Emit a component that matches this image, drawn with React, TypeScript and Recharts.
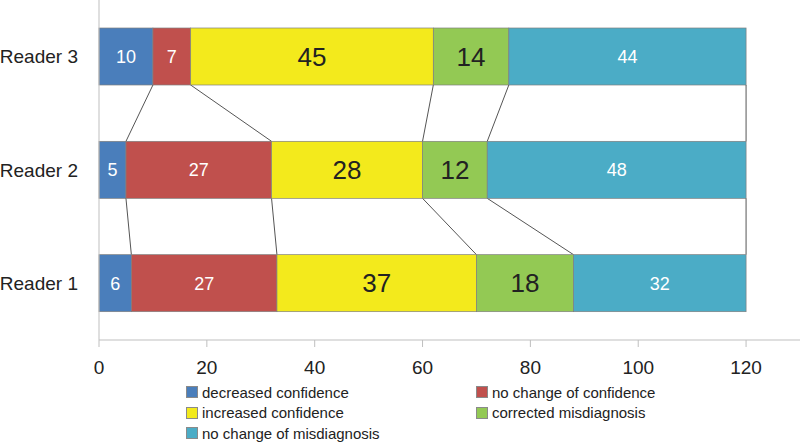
import React from "react";
import { BarChart, Bar, XAxis, YAxis, Legend, LabelList } from "recharts";

// reader rows, top to bottom as drawn
const READERS = ["Reader 3", "Reader 2", "Reader 1"];
const DECREASED = [10, 5, 6];
const NO_CHANGE_CONF = [7, 27, 27];
const INCREASED = [45, 28, 37];
const CORRECTED = [14, 12, 18];
const NO_CHANGE_MIS = [44, 48, 32];
const X_TICKS = [0, 20, 40, 60, 80, 100, 120];

const SERIES = [
  { key: "dec", name: "decreased confidence", color: "#4a7ebb", values: DECREASED, dark: false },
  { key: "ncc", name: "no change of confidence", color: "#c0504d", values: NO_CHANGE_CONF, dark: false },
  { key: "inc", name: "increased confidence", color: "#f3ea1c", values: INCREASED, dark: true },
  { key: "cor", name: "corrected misdiagnosis", color: "#93c954", values: CORRECTED, dark: true },
  { key: "ncm", name: "no change of misdiagnosis", color: "#4bacc6", values: NO_CHANGE_MIS, dark: false },
];

const data = READERS.map((name, i) => {
  const row: Record<string, string | number> = { name };
  SERIES.forEach((s) => (row[s.key] = s.values[i]));
  return row;
});

const W = 800;
const H = 443;
const LEGEND_H = 60;
const X_AXIS_H = 43;
const PLOT_H = H - LEGEND_H - X_AXIS_H;
const STEP = PLOT_H / READERS.length;

function cumulative(rowIdx: number, seriesIdx: number) {
  let sum = 0;
  for (let k = 0; k <= seriesIdx; k++) sum += SERIES[k].values[rowIdx];
  return sum;
}

// segment plus the Excel style "series line" running down to the next reader
function makeShape(seriesIdx: number) {
  return (props: any) => {
    const { x, y, width, height, fill, index } = props;
    const val = SERIES[seriesIdx].values[index];
    const scale = width / val;
    const right = x + width;
    const origin = right - cumulative(index, seriesIdx) * scale;
    const hasNext = index + 1 < READERS.length;
    const nextX = hasNext ? origin + cumulative(index + 1, seriesIdx) * scale : 0;
    return (
      <g>
        <rect x={x} y={y} width={width} height={height} fill={fill} stroke="#7f7f7f" strokeWidth={0.7} />
        {hasNext ? (
          <line x1={right} y1={y + height} x2={nextX} y2={y + STEP} stroke="#555" strokeWidth={1} />
        ) : null}
      </g>
    );
  };
}

function LegendBox() {
  return (
    <div style={{ position: "relative", height: LEGEND_H, fontSize: 15, color: "#222" }}>
      {SERIES.map((s, i) => (
        <div
          key={s.key}
          style={{
            position: "absolute",
            left: i % 2 === 0 ? 186 : 476,
            top: Math.floor(i / 2) * 20.5 - 1,
            height: 20,
            display: "flex",
            alignItems: "center",
            whiteSpace: "nowrap",
          }}
        >
          <span
            style={{
              display: "inline-block",
              width: 10,
              height: 10,
              background: s.color,
              border: "1px solid #8a8a8a",
              marginRight: 4,
            }}
          />
          {s.name}
        </div>
      ))}
    </div>
  );
}

export default function App() {
  return (
    <div style={{ position: "absolute", left: 0, top: 0, width: W, height: H, background: "#fff", fontFamily: '"Liberation Sans", Arial, sans-serif' }}>
      <BarChart width={W} height={H} data={data} layout="vertical" barSize={57} margin={{ top: 0, right: 0, left: 0, bottom: 0 }}>
        <XAxis
          type="number"
          domain={[0, 130]}
          ticks={X_TICKS}
          height={X_AXIS_H}
          stroke="#bfbfbf"
          tickSize={7}
          tickMargin={14}
          tick={{ fontSize: 19, fill: "#222" }}
        />
        <YAxis
          type="category"
          dataKey="name"
          width={99}
          stroke="#bfbfbf"
          tickLine={false}
          tickMargin={15}
          tick={{ fontSize: 19, fill: "#222" }}
        />
        <Legend verticalAlign="bottom" align="left" content={() => <LegendBox />} />
        {SERIES.map((s, i) => (
          <Bar key={s.key} dataKey={s.key} name={s.name} stackId="a" fill={s.color} shape={makeShape(i)} isAnimationActive={false}>
            <LabelList
              dataKey={s.key}
              position="center"
              fill={s.dark ? "#222" : "#fff"}
              fontSize={s.dark ? 26 : 18}
            />
          </Bar>
        ))}
      </BarChart>
    </div>
  );
}
